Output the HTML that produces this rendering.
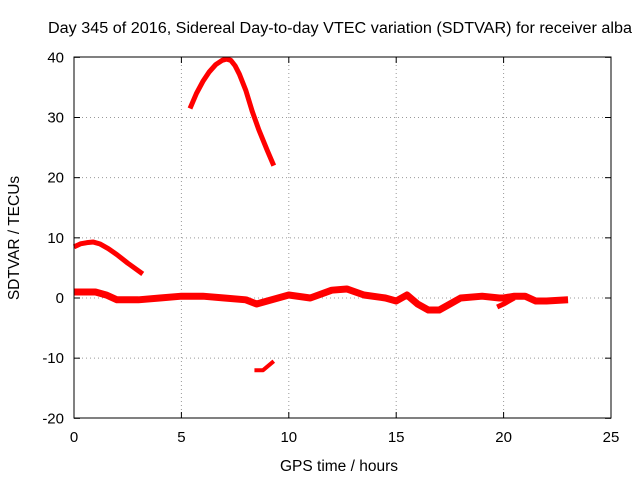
<!DOCTYPE html>
<html><head><meta charset="utf-8"><style>
body{margin:0;background:#fff}
svg{display:block;font-family:"Liberation Sans",sans-serif}
</style></head><body>
<svg id="chart" width="640" height="480" viewBox="0 0 640 480">
<rect width="640" height="480" fill="#fff"/>
<text x="48" y="33" font-size="15.5" textLength="584" lengthAdjust="spacingAndGlyphs">Day 345 of 2016, Sidereal Day-to-day VTEC variation (SDTVAR) for receiver alba</text>
<text x="339" y="471" font-size="15.5" text-anchor="middle">GPS time / hours</text>
<text transform="translate(19,238) rotate(-90)" font-size="15.5" text-anchor="middle">SDTVAR / TECUs</text>
<g id="grid"></g><g id="series"></g>
<rect x="74" y="57" width="537" height="361" fill="none" stroke="#000" stroke-width="1"/>
<g id="ticks"></g>
</svg>
<script>
const xTicks=[0,5,10,15,20,25];
const yTicks=[-20,-10,0,10,20,30,40];
const arcX=[5.4,5.7,6,6.3,6.6,6.9,7.1,7.3,7.5,7.7,8,8.3,8.6,9,9.3];
const arcY=[31.5,34,36,37.6,38.8,39.5,39.7,39.5,38.6,37.2,34.5,31,28,24.5,22];
const highX=[0,0.3,0.6,0.9,1.2,1.6,2,2.5,3.2];
const highY=[8.5,9,9.2,9.3,9,8.2,7.2,5.8,4];
const lowX=[8.4,8.8,9.3];
const lowY=[-12,-12,-10.5];
const mainX=[0,1,1.5,2,3,4,5,6,7,8,8.5,9,10,11,12,12.7,13.5,14.5,15,15.5,16,16.5,17,17.5,18,19,19.8,20,20.5,21,21.5,22,23];
const mainY=[1,1,0.5,-0.3,-0.3,0,0.3,0.3,0,-0.3,-1,-0.5,0.5,0,1.3,1.5,0.5,0,-0.5,0.5,-1,-2,-2,-1,0,0.3,0,0,0.3,0.3,-0.5,-0.5,-0.3];
const dipX=[19.7,20,20.5];
const dipY=[-1.5,-1,0];
const X=v=>74+v*(537/25), Y=v=>298-v*(361/60);
const NS="http://www.w3.org/2000/svg";
const grid=document.getElementById('grid'),ticks=document.getElementById('ticks'),ser=document.getElementById('series');
function mk(t,a,p){const e=document.createElementNS(NS,t);for(const k in a)e.setAttribute(k,a[k]);p.appendChild(e);return e;}
xTicks.forEach(t=>{const x=X(t);
 if(t>0&&t<25){const g=mk('line',{x1:x,x2:x,y1:57,y2:418,stroke:'#999','stroke-dasharray':'1,3','stroke-width':1},grid);
 
 }
 mk('line',{x1:x,x2:x,y1:418,y2:412,stroke:'#000'},ticks);mk('line',{x1:x,x2:x,y1:57,y2:63,stroke:'#000'},ticks);
 const l=mk('text',{x:x,y:442,'font-size':15,'text-anchor':'middle'},ticks);l.textContent=t;
 
 });
yTicks.forEach(t=>{const y=Y(t);
 if(t>-20&&t<40){const g=mk('line',{x1:74,x2:611,y1:y,y2:y,stroke:'#999','stroke-dasharray':'1,3','stroke-width':1},grid);
 
 }
 mk('line',{x1:74,x2:80,y1:y,y2:y,stroke:'#000'},ticks);mk('line',{x1:611,x2:605,y1:y,y2:y,stroke:'#000'},ticks);
 const l=mk('text',{x:64,y:y+5,'font-size':15,'text-anchor':'end'},ticks);l.textContent=t;
 
 });
function line(xs,ys,w,name){const p=mk('polyline',{points:xs.map((x,i)=>X(x)+','+Y(ys[i])).join(' '),fill:'none',stroke:'#f00','stroke-width':w,'stroke-linejoin':'round','stroke-linecap':'butt'},ser);
 
 }
line(arcX,arcY,5,'series-arc');
line(highX,highY,5,'series-high');
line(lowX,lowY,4,'series-low');
line(mainX,mainY,7,'series-main');
line(dipX,dipY,5,'series-dip');
</script>
</body></html>
